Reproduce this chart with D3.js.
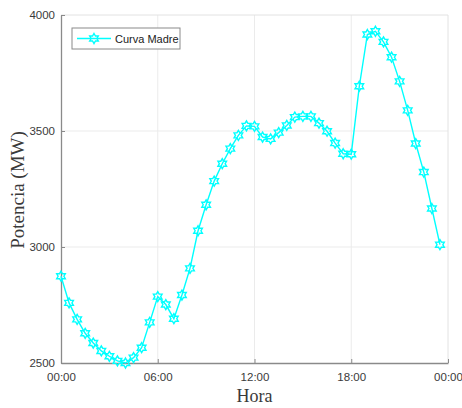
<!DOCTYPE html>
<html>
<head>
<meta charset="utf-8">
<script src="https://cdn.jsdelivr.net/npm/d3@7"></script>
<style>
  body { margin: 0; background: #fff; }
  svg { display: block; }
</style>
</head>
<body>
<div id="chart"></div>
<script>
// half-hourly load curve
let horas = ["00:00","00:30","01:00","01:30","02:00","02:30","03:00","03:30",
  "04:00","04:30","05:00","05:30","06:00","06:30","07:00","07:30",
  "08:00","08:30","09:00","09:30","10:00","10:30","11:00","11:30",
  "12:00","12:30","13:00","13:30","14:00","14:30","15:00","15:30",
  "16:00","16:30","17:00","17:30","18:00","18:30","19:00","19:30",
  "20:00","20:30","21:00","21:30","22:00","22:30","23:00","23:30"];
let potencia = [2874, 2759, 2688, 2628, 2586, 2552, 2529, 2509,
  2500, 2523, 2566, 2675, 2786, 2752, 2691, 2793,
  2908, 3070, 3182, 3284, 3359, 3424, 3481, 3522,
  3520, 3474, 3466, 3493, 3524, 3560, 3563, 3563,
  3534, 3499, 3448, 3402, 3400, 3693, 3916, 3930,
  3884, 3818, 3714, 3589, 3446, 3323, 3166, 3010];
let xTickHours = [0, 6, 12, 18, 24];
let xTickLabels = ["00:00", "06:00", "12:00", "18:00", "00:00"];
let yTicks = [2500, 3000, 3500, 4000];
let seriesName = "Curva Madre";

let svgWidth = 462, svgHeight = 408;
let margin = { top: 15, right: 14, bottom: 45, left: 61 };
let width = svgWidth - margin.left - margin.right;
let height = svgHeight - margin.top - margin.bottom;

let lineColor = "#00ffff";
let axisColor = "#8a8a8a";
let gridColor = "#ebebeb";
let textColor = "#3a3a3a";

let svg = d3.select("#chart").append("svg")
  .attr("width", svgWidth).attr("height", svgHeight);
let g = svg.append("g").attr("transform", `translate(${margin.left},${margin.top})`);

let toHours = s => { let p = s.split(":"); return +p[0] + +p[1] / 60; };
let data = horas.map((h, i) => ({ t: toHours(h), v: potencia[i] }));

let x = d3.scaleLinear().domain([0, 24]).range([0, width]);
let y = d3.scaleLinear().domain([2500, 4000]).range([height, 0]);

// grid
g.append("g").selectAll("line").data(xTickHours.slice(1, -1)).enter().append("line")
  .attr("x1", d => x(d)).attr("x2", d => x(d)).attr("y1", 0).attr("y2", height)
  .attr("stroke", gridColor).attr("stroke-width", 1);
g.append("g").selectAll("line").data(yTicks.slice(1, -1)).enter().append("line")
  .attr("y1", d => y(d)).attr("y2", d => y(d)).attr("x1", 0).attr("x2", width)
  .attr("stroke", gridColor).attr("stroke-width", 1);

// box top/right
g.append("path")
  .attr("d", `M0,0H${width}V${height}`)
  .attr("fill", "none").attr("stroke", "#e2e2e2").attr("stroke-width", 1);

// axes
let xAxis = d3.axisBottom(x).tickValues(xTickHours)
  .tickFormat((d, i) => xTickLabels[i]).tickSizeInner(-4).tickSizeOuter(0).tickPadding(10);
let yAxis = d3.axisLeft(y).tickValues(yTicks)
  .tickFormat(d3.format("d")).tickSizeInner(-4).tickSizeOuter(0).tickPadding(6);

let xg = g.append("g").attr("transform", `translate(0,${height})`).call(xAxis);
let yg = g.append("g").call(yAxis);
[xg, yg].forEach(a => {
  a.select(".domain").attr("stroke", axisColor).attr("stroke-width", 1.3);
  a.selectAll(".tick line").attr("stroke", axisColor);
  a.selectAll(".tick text").attr("fill", textColor)
    .attr("font-family", "'Liberation Sans', Arial, sans-serif").attr("font-size", "11.5px");
});

// series
let line = d3.line().x(d => x(d.t)).y(d => y(d.v));
g.append("path").datum(data)
  .attr("d", line).attr("fill", "none")
  .attr("stroke", lineColor).attr("stroke-width", 1.4);

function hexagram(r) {
  let ri = r * 0.58;
  let pts = [];
  for (let k = 0; k < 12; k++) {
    let a = -Math.PI / 2 + k * Math.PI / 6;
    let rr = k % 2 === 0 ? r : ri;
    pts.push([rr * Math.cos(a), rr * Math.sin(a)]);
  }
  return "M" + pts.map(p => p[0].toFixed(2) + "," + p[1].toFixed(2)).join("L") + "Z";
}
let star = hexagram(5);

g.append("g").selectAll("path").data(data).enter().append("path")
  .attr("transform", d => `translate(${x(d.t)},${y(d.v)})`)
  .attr("d", star).attr("fill", "none")
  .attr("stroke", lineColor).attr("stroke-width", 1.4);

// axis titles
svg.append("text")
  .attr("x", margin.left + width / 2).attr("y", 402)
  .attr("text-anchor", "middle").attr("fill", textColor)
  .attr("font-family", "'Liberation Serif', 'Times New Roman', serif").attr("font-size", "18px")
  .text("Hora");
svg.append("text")
  .attr("transform", "translate(24,190) rotate(-90)")
  .attr("text-anchor", "middle").attr("fill", textColor)
  .attr("font-family", "'Liberation Serif', 'Times New Roman', serif").attr("font-size", "19px")
  .text("Potencia (MW)");

// legend
let lg = svg.append("g").attr("transform", "translate(72,28)");
lg.append("rect").attr("width", 108).attr("height", 21)
  .attr("fill", "#fff").attr("stroke", "#8a8a8a").attr("stroke-width", 1);
lg.append("line").attr("x1", 5).attr("x2", 39).attr("y1", 10.5).attr("y2", 10.5)
  .attr("stroke", lineColor).attr("stroke-width", 1.4);
lg.append("path").attr("transform", "translate(22,10.5)").attr("d", star)
  .attr("fill", "none").attr("stroke", lineColor).attr("stroke-width", 1.4);
lg.append("text").attr("x", 43).attr("y", 14.5)
  .attr("fill", "#222").attr("font-family", "'Liberation Sans', Arial, sans-serif")
  .attr("font-size", "11px").text(seriesName);
</script>
</body>
</html>
